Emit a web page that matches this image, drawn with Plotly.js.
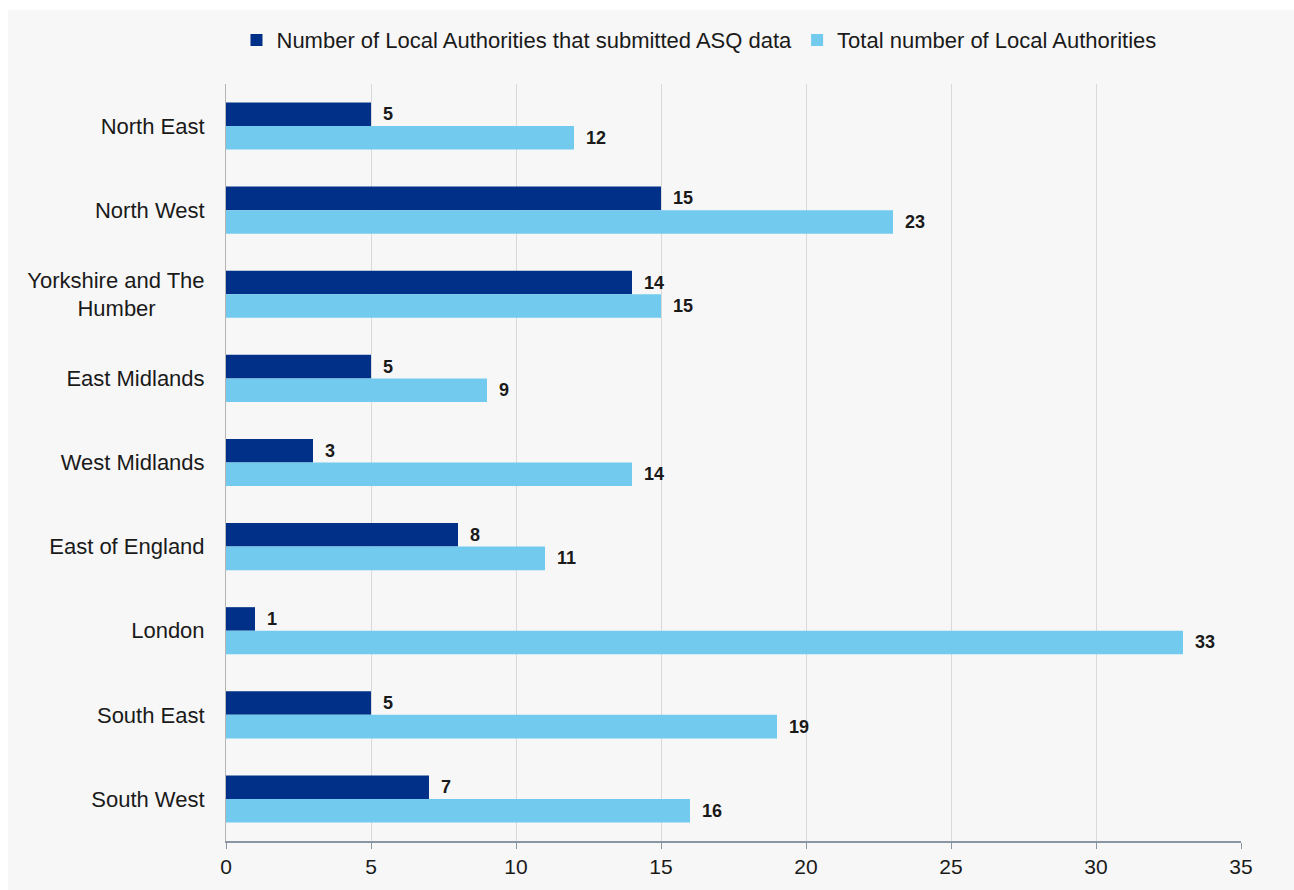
<!DOCTYPE html>
<html>
<head>
<meta charset="utf-8">
<script src="https://cdn.plot.ly/plotly-3.0.1.min.js"></script>
<style>
  html, body { margin: 0; padding: 0; background: #ffffff; }
  #chart { position: absolute; left: 8px; top: 10px; width: 1286px; height: 880px; }
</style>
</head>
<body>
<div id="chart"></div>
<script>
const regions = ["North East", "North West", "Yorkshire and The<br>Humber\u00a0\u00a0\u00a0\u00a0\u00a0\u00a0\u00a0\u00a0", "East Midlands", "West Midlands", "East of England", "London", "South East", "South West"];
const submitted = [5, 15, 14, 5, 3, 8, 1, 5, 7];
const total = [12, 23, 15, 9, 14, 11, 33, 19, 16];
const seriesNames = ["Number of Local Authorities that submitted ASQ data", "Total number of Local Authorities"];
const xTicks = [0, 5, 10, 15, 20, 25, 30, 35];

const labelFont = {family: "Liberation Sans, Arial, sans-serif", size: 18, color: "#1a1a1a", weight: "bold"};

const traces = [
  {
    type: "bar", orientation: "h", name: seriesNames[0],
    y: regions, x: submitted,
    marker: {color: "#003087"},
    text: submitted.map(v => "\u2002<b>" + v + "</b>"), textposition: "outside",
    textfont: labelFont, cliponaxis: false, constraintext: "none",
    hoverinfo: "x+name"
  },
  {
    type: "bar", orientation: "h", name: seriesNames[1],
    y: regions, x: total,
    marker: {color: "#72cbee"},
    text: total.map(v => "\u2002<b>" + v + "</b>"), textposition: "outside",
    textfont: labelFont, cliponaxis: false, constraintext: "none",
    hoverinfo: "x+name"
  }
];

const layout = {
  width: 1286, height: 880,
  paper_bgcolor: "#f7f7f7", plot_bgcolor: "#f7f7f7",
  margin: {l: 218, r: 53, t: 74, b: 49, autoexpand: false},
  barmode: "group", bargap: 0.44, bargroupgap: 0,
  font: {family: "Liberation Sans, Arial, sans-serif", size: 22, color: "#1a1a1a"},
  showlegend: true,
  legend: {
    orientation: "h", x: 0.466, xanchor: "center", y: 1.058, yanchor: "middle",
    font: {size: 22, color: "#1a1a1a"}, bgcolor: "rgba(0,0,0,0)",
    traceorder: "normal", itemwidth: 30
  },
  xaxis: {
    range: [0, 35], tickvals: xTicks, ticktext: xTicks.map(String),
    showgrid: true, gridcolor: "#d9d9d9", gridwidth: 1,
    zeroline: false, showline: true, linecolor: "#8a96a3", linewidth: 2,
    ticks: "outside", ticklen: 6, tickcolor: "#8a96a3", tickwidth: 1,
    tickfont: {size: 21, color: "#1a1a1a"}
  },
  yaxis: {
    type: "category", autorange: "reversed",
    showgrid: false, zeroline: false,
    showline: true, linecolor: "#b5b5b5", linewidth: 1,
    ticks: "", ticklabelstandoff: 16,
    tickfont: {size: 22, color: "#1a1a1a"}
  }
};

Plotly.newPlot("chart", traces, layout, {displayModeBar: false, responsive: false});
</script>
</body>
</html>
